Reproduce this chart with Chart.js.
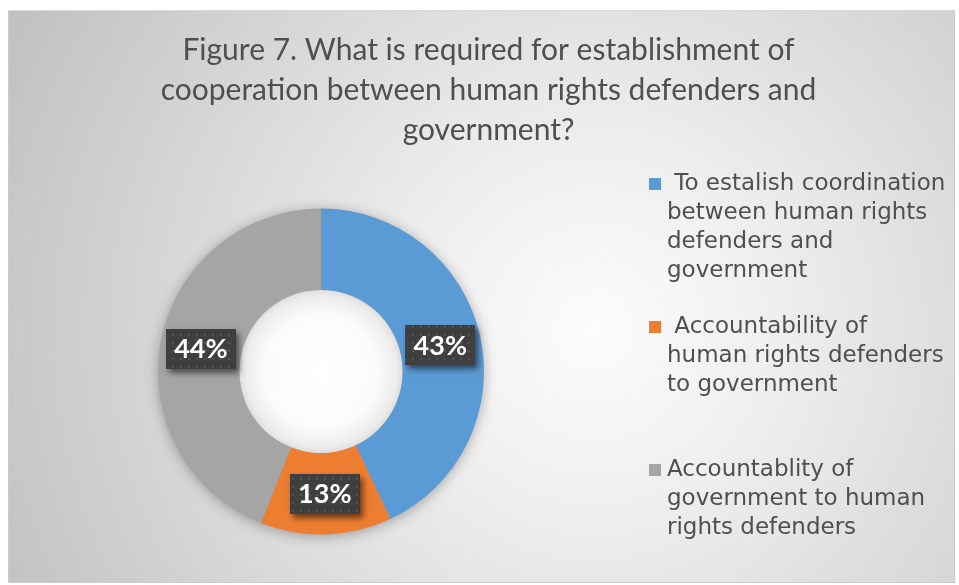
<!DOCTYPE html>
<html>
<head>
<meta charset="utf-8">
<title>Figure 7</title>
<script src="https://cdn.jsdelivr.net/npm/chart.js@4.4.1/dist/chart.umd.min.js"></script>
<style>
  html, body { margin: 0; padding: 0; background: #fff; }
  #frame {
    position: absolute; left: 8px; top: 10px; width: 947px; height: 573px;
    box-sizing: border-box; border: 1px solid #cbcbcb; border-top-color: #dadada;
    background: radial-gradient(circle farthest-corner at 62% 56%, #fcfcfc 0%, #f0f0f0 25%, #c0c0c0 100%);
  }
  #wrap { position: absolute; left: 0; top: 0; right: 0; bottom: 0; }
</style>
</head>
<body>
<div id="frame"><div id="wrap"><canvas id="chart"></canvas></div></div>
<script>
// answers, in legend order
const categories = [
  [' To estalish coordination', 'between human rights', 'defenders and', 'government'],
  [' Accountability of', 'human rights defenders', 'to government'],
  ['Accountablity of', 'government to human', 'rights defenders']
];
const shares = [43, 13, 44];
const sliceColors = ['#5B9BD5', '#ED7D31', '#A5A5A5'];
const titleLines = [
  'Figure 7. What is required for establishment of',
  'cooperation between human rights defenders and',
  'government?'
];

const TEXT_COLOR = '#4f4f4f';

// dark dotted fill for the value boxes
function dotPattern(ctx) {
  const c = document.createElement('canvas');
  c.width = 8; c.height = 8;
  const p = c.getContext('2d');
  p.fillStyle = '#3f3f3f';
  p.fillRect(0, 0, 8, 8);
  p.fillStyle = '#535353';
  p.fillRect(3, 3, 2, 2);
  return ctx.createPattern(c, 'repeat');
}

// title spans the whole frame, so it is drawn here rather than in a layout box
const wideTitle = {
  id: 'wideTitle',
  afterDraw(chart) {
    const ctx = chart.ctx;
    const cx = chart.width / 2 + 7;
    ctx.save();
    ctx.font = '30px Lato';
    ctx.fillStyle = TEXT_COLOR;
    ctx.textAlign = 'center';
    ctx.textBaseline = 'middle';
    titleLines.forEach((t, i) => ctx.fillText(t, cx, 39 + i * 40));
    ctx.restore();
  }
};

// soft shadow under the ring
const ringShadow = {
  id: 'ringShadow',
  beforeDatasetsDraw(chart) {
    const arc = chart.getDatasetMeta(0).data[0];
    if (!arc) return;
    const { x, y, outerRadius } = arc.getProps(['x', 'y', 'outerRadius'], true);
    const ctx = chart.ctx;
    ctx.save();
    ctx.shadowColor = 'rgba(0,0,0,0.35)';
    ctx.shadowBlur = 14;
    ctx.shadowOffsetY = 2;
    ctx.beginPath();
    ctx.arc(x, y, outerRadius - 1, 0, Math.PI * 2);
    ctx.fillStyle = '#a5a5a5';
    ctx.fill();
    ctx.restore();
  }
};

// white centre with a faint rim, then the value boxes
const centreAndLabels = {
  id: 'centreAndLabels',
  afterDatasetsDraw(chart) {
    const ctx = chart.ctx;
    const arcs = chart.getDatasetMeta(0).data;
    const { x, y, innerRadius } = arcs[0].getProps(['x', 'y', 'innerRadius'], true);

    const g = ctx.createRadialGradient(x, y, 0, x, y, innerRadius);
    g.addColorStop(0, '#ffffff');
    g.addColorStop(0.7, '#fbfbfb');
    g.addColorStop(0.93, '#ececec');
    g.addColorStop(1, '#dedede');
    ctx.save();
    ctx.beginPath();
    ctx.arc(x, y, innerRadius, 0, Math.PI * 2);
    ctx.fillStyle = g;
    ctx.fill();
    ctx.restore();

    const pattern = dotPattern(ctx);
    arcs.forEach((arc, i) => {
      const pos = arc.tooltipPosition();
      const w = 70, h = 40;
      const bx = Math.round(pos.x - w / 2), by = Math.round(pos.y - h / 2);
      ctx.save();
      ctx.shadowColor = 'rgba(0,0,0,0.55)';
      ctx.shadowBlur = 6;
      ctx.shadowOffsetX = 3;
      ctx.shadowOffsetY = 4;
      ctx.fillStyle = '#3f3f3f';
      ctx.fillRect(bx, by, w, h);
      ctx.restore();
      ctx.save();
      ctx.fillStyle = pattern;
      ctx.fillRect(bx, by, w, h);
      ctx.fillStyle = '#ffffff';
      ctx.font = 'bold 27px Lato';
      ctx.textAlign = 'center';
      ctx.textBaseline = 'middle';
      ctx.fillText(shares[i] + '%', pos.x, pos.y + 1);
      ctx.restore();
    });
  }
};

// wrapped legend on the right
const sideLegend = {
  id: 'sideLegend',
  afterDraw(chart) {
    const ctx = chart.ctx;
    const left = chart.chartArea.right + 165;
    const top = 173;
    const step = 143;
    const lineH = 29;
    ctx.save();
    ctx.font = '23px "DejaVu Sans"';
    ctx.textBaseline = 'middle';
    ctx.textAlign = 'left';
    categories.forEach((lines, i) => {
      const y0 = top + i * step;
      ctx.fillStyle = sliceColors[i];
      ctx.fillRect(left, y0 - 6, 12, 12);
      ctx.fillStyle = TEXT_COLOR;
      lines.forEach((t, j) => ctx.fillText(t, left + 18, y0 + j * lineH));
    });
    ctx.restore();
  }
};

new Chart(document.getElementById('chart'), {
  type: 'doughnut',
  data: {
    labels: categories,
    datasets: [{
      data: shares,
      backgroundColor: sliceColors,
      borderWidth: 0,
      hoverOffset: 0
    }]
  },
  options: {
    responsive: true,
    maintainAspectRatio: false,
    animation: false,
    cutout: '50%',
    layout: { padding: { left: 149, right: 470, top: 197, bottom: 47 } },
    plugins: {
      legend: { display: false },
      tooltip: { enabled: false },
      title: { display: false }
    }
  },
  plugins: [ringShadow, centreAndLabels, sideLegend, wideTitle]
});
</script>
</body>
</html>
